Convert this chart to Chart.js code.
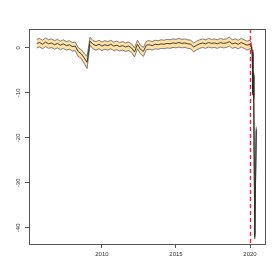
<!DOCTYPE html>
<html>
<head>
<meta charset="utf-8">
<script src="https://cdn.jsdelivr.net/npm/chart.js@4"></script>
<style>
html,body{margin:0;padding:0;background:#fff;}
#c{display:block;}
</style>
</head>
<body>
<canvas id="c" width="280" height="280"></canvas>
<script>
const years = [2005.6,2005.8,2006.0,2006.2,2006.4,2006.6,2006.8,2007.0,2007.2,2007.4,2007.6,2007.8,
2008.0,2008.2,2008.4,2008.6,2008.8,2009.0,2009.2,2009.4,2009.6,2009.8,
2010.0,2010.2,2010.4,2010.6,2010.8,2011.0,2011.2,2011.4,2011.6,2011.8,
2012.0,2012.2,2012.4,2012.6,2012.8,2013.0,2013.2,2013.4,2013.6,2013.8,
2014.0,2014.2,2014.4,2014.6,2014.8,2015.0,2015.2,2015.4,2015.6,2015.8,
2016.0,2016.2,2016.4,2016.6,2016.8,2017.0,2017.2,2017.4,2017.6,2017.8,
2018.0,2018.2,2018.4,2018.6,2018.8,2019.0,2019.2,2019.4,2019.6,2019.8,
2020.0,2020.08,2020.15,2020.19,2020.22,2020.25,2020.32,2020.42];
const midValues = [1.0,1.2,0.8,1.3,0.9,1.1,0.7,1.0,0.6,0.9,0.5,0.7,
0.3,0.4,-0.8,-1.3,-2.2,-3.2,1.5,0.8,0.5,0.8,
0.4,0.7,0.5,0.8,0.4,0.6,0.3,0.5,0.2,0.4,
0.0,-0.9,0.8,-0.3,-0.8,0.6,0.7,0.5,0.8,0.7,
0.9,0.8,1.0,0.9,1.1,1.0,1.2,1.0,1.1,0.9,
0.8,0.2,0.6,0.9,1.1,0.9,1.2,1.0,1.1,0.9,
1.2,1.0,1.1,1.4,0.9,1.1,0.8,1.2,0.9,0.6,
0.8,0.5,-1.0,-10.0,-6.0,-11.0,-42.0,-18.0];
const upperValues = [1.9,2.1,1.7,2.2,1.8,2.0,1.6,1.9,1.5,1.8,1.4,1.6,
1.2,1.3,0.1,-0.4,-1.2,-1.9,2.4,1.6,1.4,1.7,
1.3,1.6,1.4,1.7,1.3,1.5,1.2,1.4,1.1,1.3,
0.9,0.0,1.7,0.6,0.1,1.5,1.6,1.4,1.7,1.6,
1.8,1.7,1.9,1.8,2.0,1.9,2.1,1.9,2.0,1.8,
1.7,1.1,1.5,1.8,2.0,1.8,2.1,1.9,2.0,1.8,
2.1,1.9,2.0,2.4,1.8,2.0,1.7,2.1,1.8,1.5,
1.7,1.2,-0.5,-9.5,-5.5,-10.5,-41.5,-17.5];
const lowerValues = [0.0,0.2,-0.2,0.3,-0.1,0.1,-0.3,0.0,-0.4,-0.1,-0.5,-0.3,
-0.7,-0.6,-1.9,-2.3,-3.4,-4.6,0.6,-0.2,-0.5,-0.2,
-0.6,-0.3,-0.5,-0.2,-0.6,-0.4,-0.7,-0.5,-0.8,-0.6,
-1.0,-2.0,-0.2,-1.3,-1.9,-0.4,-0.3,-0.5,-0.2,-0.3,
-0.1,-0.2,0.0,-0.1,0.1,0.0,0.2,0.0,0.1,-0.1,
-0.2,-0.9,-0.4,-0.1,0.1,-0.1,0.2,0.0,0.1,-0.1,
0.2,0.0,0.1,0.4,-0.1,0.1,-0.2,0.2,-0.1,-0.5,
-0.2,-0.2,-1.5,-10.5,-6.5,-11.5,-42.5,-18.5];
const xTickValues = [2010, 2015, 2020];
const yTickValues = [-40, -30, -20, -10, 0];
const markerYear = 2020;

const toPts = arr => arr.map((v, i) => ({x: years[i], y: v}));
const FONT = "'Liberation Sans', Arial, sans-serif";

const frame = {
  id: 'frame',
  afterDatasetsDraw(chart) {
    const {ctx, chartArea: a, scales: {x, y}} = chart;
    ctx.save();
    const px = Math.round(x.getPixelForValue(markerYear)) + 0.5;
    ctx.strokeStyle = '#ff2020';
    ctx.lineWidth = 1.4;
    ctx.setLineDash([4, 3]);
    ctx.beginPath();
    ctx.moveTo(px, a.top);
    ctx.lineTo(px, a.bottom);
    ctx.stroke();
    ctx.restore();
  },
  afterDraw(chart) {
    const {ctx, chartArea: a, scales: {y}} = chart;
    ctx.save();
    ctx.strokeStyle = '#555';
    ctx.lineWidth = 1;
    ctx.strokeRect(Math.round(a.left) + 0.5, Math.round(a.top) + 0.5,
      Math.round(a.right - a.left), Math.round(a.bottom - a.top));
    ctx.fillStyle = '#333';
    ctx.font = '6px ' + FONT;
    ctx.textAlign = 'center';
    ctx.textBaseline = 'middle';
    yTickValues.forEach(v => {
      const py = y.getPixelForValue(v);
      ctx.save();
      ctx.translate(18.5, py);
      ctx.rotate(-Math.PI / 2);
      ctx.fillText(String(v), 0, 0);
      ctx.restore();
    });
    ctx.restore();
  }
};

new Chart(document.getElementById('c'), {
  type: 'line',
  data: {
    datasets: [
      {data: toPts(midValues), borderColor: '#2a2a2a', borderWidth: 0.9, pointRadius: 0, fill: false, tension: 0},
      {data: toPts(lowerValues), borderColor: '#4a4a4a', borderWidth: 0.7, pointRadius: 0, fill: false, tension: 0},
      {data: toPts(upperValues), borderColor: '#4a4a4a', borderWidth: 0.7, pointRadius: 0, fill: '-1',
       backgroundColor: 'rgba(255,195,80,0.5)', tension: 0}
    ]
  },
  options: {
    responsive: false,
    animation: false,
    events: [],
    layout: {padding: {left: 0, top: 29, right: 15, bottom: 0}},
    plugins: {legend: {display: false}, tooltip: {enabled: false}},
    scales: {
      x: {
        type: 'linear', min: 2005.08, max: 2021.01,
        afterBuildTicks: s => { s.ticks = xTickValues.map(v => ({value: v})); },
        afterFit: s => { s.height = 36; },
        grid: {drawOnChartArea: false, drawTicks: true, tickLength: 4, color: '#555'},
        border: {display: true, color: '#555'},
        ticks: {color: '#333', font: {size: 6, family: FONT}, padding: 3, maxRotation: 0,
                callback: v => String(v)}
      },
      y: {
        type: 'linear', min: -43.6, max: 4.2,
        afterBuildTicks: s => { s.ticks = yTickValues.map(v => ({value: v})); },
        afterFit: s => { s.width = 29; },
        grid: {drawOnChartArea: false, drawTicks: true, tickLength: 4, color: '#555'},
        border: {display: true, color: '#555'},
        ticks: {display: false}
      }
    }
  },
  plugins: [frame]
});
</script>
</body>
</html>
